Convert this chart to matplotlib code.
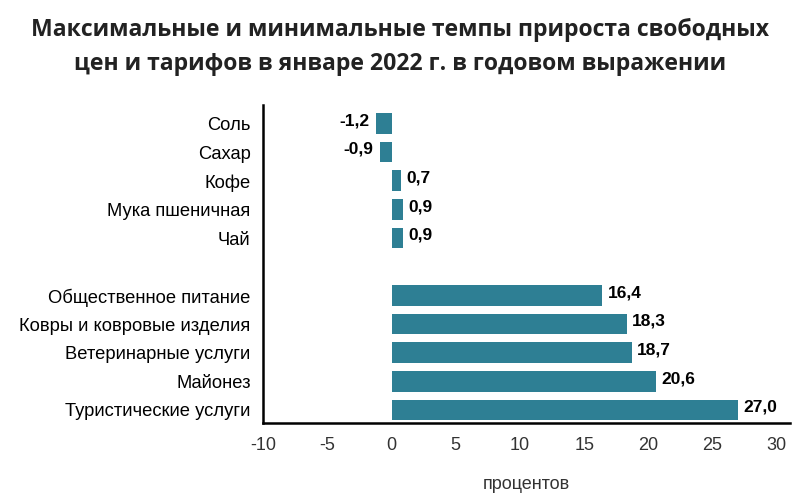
import numpy as np
import matplotlib.pyplot as plt

plt.rcParams['font.family'] = ['Liberation Sans', 'DejaVu Sans']

# data (top to bottom)
labels = ["Соль", "Сахар", "Кофе", "Мука пшеничная", "Чай",
          "Общественное питание", "Ковры и ковровые изделия",
          "Ветеринарные услуги", "Майонез", "Туристические услуги"]
values = [-1.2, -0.9, 0.7, 0.9, 0.9, 16.4, 18.3, 18.7, 20.6, 27.0]
xticks = [-10, -5, 0, 5, 10, 15, 20, 25, 30]

title = "Максимальные и минимальные темпы прироста свободных\nцен и тарифов в январе 2022 г. в годовом выражении"

# slots: 5 smallest on top, gap, 5 largest below
pos = [10, 9, 8, 7, 6, 4, 3, 2, 1, 0]

fig = plt.figure(figsize=(8, 5.04), dpi=100)
ax = fig.add_axes([0.329, 0.161, 0.658, 0.631])

ax.barh(pos, values, height=0.72, color="#2e7f94")

for p, v in zip(pos, values):
    txt = f"{v:.1f}".replace(".", ",")
    if v < 0:
        ax.annotate(txt, (v, p), xytext=(-5, 2), textcoords="offset points",
                    ha="right", va="center", fontsize=12.5, fontweight="bold")
    else:
        ax.annotate(txt, (v, p), xytext=(4, 2), textcoords="offset points",
                    ha="left", va="center", fontsize=12.5, fontweight="bold")

ax.set_yticks(pos)
ax.set_yticklabels(labels, fontsize=13.2)
ax.set_xticks(xticks)
ax.set_xticklabels([str(t) for t in xticks], fontsize=13, color="#333333")
ax.tick_params(length=0, pad=10)
ax.tick_params(axis="y", pad=9)
ax.set_xlim(-10, 31)
ax.set_ylim(-0.45, 10.65)

for s in ["top", "right"]:
    ax.spines[s].set_visible(False)
ax.spines["left"].set_linewidth(1.8)
ax.spines["bottom"].set_linewidth(1.8)

ax.set_xlabel("процентов", fontsize=13, labelpad=16, color="#333333")

fig.text(0.5, 0.964, title, ha="center", va="top", fontsize=16.6,
         fontweight="bold", family="Open Sans", color="#222222", linespacing=1.55)

fig.savefig("out.png", dpi=100)
